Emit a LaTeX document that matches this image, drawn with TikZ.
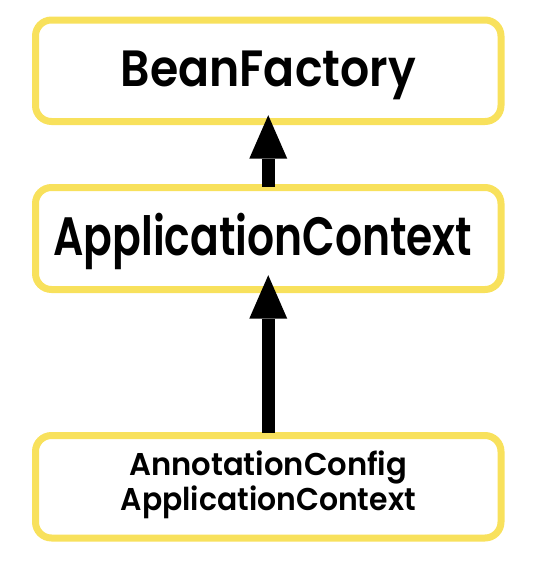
\documentclass[tikz,border=0pt]{standalone}
\usepackage{fontspec}
\newfontfamily\pop{Poppins}[UprightFont={* SemiBold}]
\usetikzlibrary{arrows.meta}
\definecolor{boxyellow}{RGB}{248,225,92}
\newlength\fitlen
\newcommand\fitw[2]{\settowidth\fitlen{#2}\pgfmathsetmacro\fitratio{#1/\fitlen}\scalebox{\fitratio}[1]{#2}}
\begin{document}
\begin{tikzpicture}[x=1pt,y=-1pt,
 box/.style={draw=boxyellow,line width=7pt,rounded corners=16pt,minimum width=465.5pt,inner sep=0pt,text depth=0pt},
 link/.style={line width=13pt,-{Triangle[length=43.5pt,width=38pt,line width=0pt]}}]
\useasboundingbox (0,0) rectangle (556,574);
\node[box,minimum height=101.5pt,text height=30.5pt] (bf) at (268.25,70.75) {\fitw{295pt}{\fontsize{51}{51}\pop BeanFactory}};
\node[box,minimum height=102pt,text height=33pt] (ac) at (268.25,238.5) {\fitw{419pt}{\fontsize{54}{54}\pop ApplicationContext}\hspace*{10.9pt}};
\node[box,minimum height=102.5pt,text height=47.9pt] (acac) at (268.25,486.75) {\fontsize{31.5}{33.5}\pop\begin{tabular}[b]{@{}c@{}}\fitw{278pt}{AnnotationConfig}\\\fitw{295pt}{ApplicationContext}\end{tabular}};
\draw[link] ([yshift=-2.5pt]ac.north) -- ([yshift=9.8pt]bf.south);
\draw[link] ([yshift=-0.5pt]acac.north) -- ([yshift=17.8pt]ac.south);
\end{tikzpicture}
\end{document}
